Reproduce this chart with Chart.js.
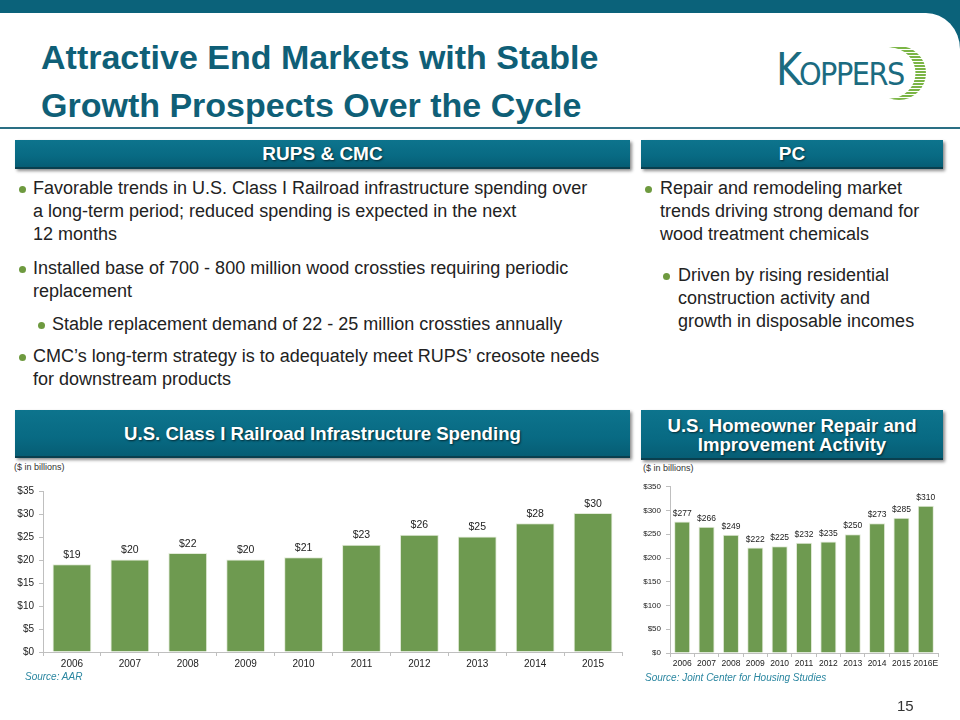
<!DOCTYPE html>
<html>
<head>
<meta charset="utf-8">
<script src="https://cdn.jsdelivr.net/npm/chart.js@4.4.1/dist/chart.umd.min.js"></script>
<style>
  html,body{margin:0;padding:0;}
  body{width:960px;height:720px;position:relative;overflow:hidden;background:#fff;font-family:"Liberation Sans",Arial,sans-serif;}
  .abs{position:absolute;}
  #topteal{left:0;top:0;width:960px;height:80px;background:#0b627a;}
  #whitepage{left:0;top:13px;width:960px;height:707px;background:#fff;border-top-right-radius:34px 36px;}
  .title{left:41px;color:#0f5f77;font-weight:bold;font-size:34px;white-space:nowrap;line-height:40px;}
  #rule{left:0;top:127px;width:960px;height:2px;background:#2a6f84;}
  .hdr{background:linear-gradient(#0d748d,#086a83 60%,#065d74);color:#fff;font-weight:bold;text-align:center;box-shadow:2px 2px 3px rgba(0,0,0,0.45);border-bottom:2px solid #0a3f4e;box-sizing:border-box;text-shadow:1px 1px 2px rgba(0,0,0,0.6);}
  .bl{font-size:18px;color:#222;line-height:23px;white-space:nowrap;}
  .dot{position:absolute;width:7px;height:7px;border-radius:50%;background:#6e9a3f;}
  .small{font-size:9px;color:#333;white-space:nowrap;}
  .src{font-size:10px;color:#2a86a0;font-style:italic;white-space:nowrap;}
</style>
</head>
<body>
<div id="topteal" class="abs"></div>
<div id="whitepage" class="abs"></div>

<div class="abs title" style="top:37px;">Attractive End Markets with Stable</div>
<div class="abs title" style="top:85px;">Growth Prospects Over the Cycle</div>

<!-- logo -->
<div class="abs" style="left:776px;top:44px;color:#1b6b80;white-space:nowrap;font-family:'DejaVu Sans Condensed','Liberation Sans',sans-serif;">
  <span style="font-size:44px;letter-spacing:-3px;">K</span><span style="font-size:32px;letter-spacing:-1.5px;">OPPERS</span>
</div>
<svg class="abs" style="left:866px;top:44px;" width="66" height="60" viewBox="0 0 66 60">
  <defs>
    <pattern id="stripes" width="4" height="3" patternUnits="userSpaceOnUse">
      <rect width="4" height="2" fill="#7bb545"/>
    </pattern>
    <mask id="cres">
      <rect width="66" height="60" fill="black"/>
      <circle cx="33" cy="29" r="27" fill="white"/>
      <circle cx="24" cy="29" r="25.5" fill="black"/>
    </mask>
  </defs>
  <rect width="66" height="60" fill="url(#stripes)" mask="url(#cres)"/>
</svg>

<div id="rule" class="abs"></div>

<div class="abs hdr" style="left:15px;top:140px;width:615px;height:29px;font-size:19px;line-height:28px;">RUPS &amp; CMC</div>
<div class="abs hdr" style="left:641px;top:140px;width:302px;height:29px;font-size:19px;line-height:28px;">PC</div>

<!-- left bullets -->
<div class="dot" style="left:19px;top:186px;"></div>
<div class="abs bl" style="left:33px;top:177px;">Favorable trends in U.S. Class I Railroad infrastructure spending over<br>a long-term period; reduced spending is expected in the next<br>12 months</div>
<div class="dot" style="left:19px;top:266px;"></div>
<div class="abs bl" style="left:33px;top:257px;">Installed base of 700 - 800 million wood crossties requiring periodic<br>replacement</div>
<div class="dot" style="left:38px;top:322px;"></div>
<div class="abs bl" style="left:52px;top:313px;">Stable replacement demand of 22 - 25 million crossties annually</div>
<div class="dot" style="left:19px;top:354px;"></div>
<div class="abs bl" style="left:33px;top:345px;">CMC’s long-term strategy is to adequately meet RUPS’ creosote needs<br>for downstream products</div>

<!-- right bullets -->
<div class="dot" style="left:645px;top:186px;"></div>
<div class="abs bl" style="left:660px;top:177px;">Repair and remodeling market<br>trends driving strong demand for<br>wood treatment chemicals</div>
<div class="dot" style="left:663px;top:273px;"></div>
<div class="abs bl" style="left:678px;top:264px;">Driven by rising residential<br>construction activity and<br>growth in disposable incomes</div>

<div class="abs hdr" style="left:15px;top:410px;width:615px;height:48px;font-size:18.6px;line-height:47px;">U.S. Class I Railroad Infrastructure Spending</div>
<div class="abs hdr" style="left:641px;top:410px;width:302px;height:50px;font-size:18.6px;line-height:19px;padding-top:6px;">U.S. Homeowner Repair and<br>Improvement Activity</div>

<div class="abs small" style="left:14px;top:462px;">($ in billions)</div>
<div class="abs small" style="left:643px;top:463px;">($ in billions)</div>

<canvas id="c1" class="abs" style="left:0px;top:480px;" width="630" height="195"></canvas>
<canvas id="c2" class="abs" style="left:630px;top:477px;" width="320" height="199"></canvas>

<div class="abs src" style="left:25px;top:671px;">Source: AAR</div>
<div class="abs src" style="left:645px;top:672px;">Source: Joint Center for Housing Studies</div>

<div class="abs" style="left:897px;top:697px;font-size:15px;color:#333;">15</div>

<script>
// ---- data ----
const railYears = ['2006','2007','2008','2009','2010','2011','2012','2013','2014','2015'];
const railSpend = [19.1, 20.1, 21.5, 20.1, 20.6, 23.3, 25.5, 25.1, 28.0, 30.2];
const railLabels = ['$19','$20','$22','$20','$21','$23','$26','$25','$28','$30'];
const railTicks = [0,5,10,15,20,25,30,35];

const homeYears = ['2006','2007','2008','2009','2010','2011','2012','2013','2014','2015','2016E'];
const homeSpend = [277, 266, 249, 222, 225, 232, 235, 250, 273, 285, 310];
const homeLabels = ['$277','$266','$249','$222','$225','$232','$235','$250','$273','$285','$310'];
const homeTicks = [0,50,100,150,200,250,300,350];

const FONT = '"Liberation Sans", Arial, sans-serif';
const GREEN = '#6e9a50';
const AXIS = '#bfbfbf';

function valueLabelPlugin(labels, size) {
  return {
    id: 'vl',
    afterDatasetsDraw(chart) {
      const ctx = chart.ctx;
      const meta = chart.getDatasetMeta(0);
      ctx.save();
      ctx.font = size + 'px ' + FONT;
      ctx.fillStyle = '#222';
      ctx.textAlign = 'center';
      ctx.textBaseline = 'bottom';
      meta.data.forEach((bar, i) => {
        ctx.fillText(labels[i], bar.x, bar.y - 4);
      });
      ctx.restore();
    }
  };
}

function makeChart(id, cats, vals, labels, ticks, opts) {
  return new Chart(document.getElementById(id), {
    type: 'bar',
    data: {
      labels: cats,
      datasets: [{
        data: vals,
        backgroundColor: GREEN,
        borderColor: '#e3ebd9',
        borderWidth: 1,
        barPercentage: opts.bar,
        categoryPercentage: 1.0
      }]
    },
    options: {
      responsive: false,
      devicePixelRatio: 1,
      animation: false,
      layout: { padding: { top: opts.padTop, right: opts.padRight, left: 0, bottom: 0 } },
      plugins: { legend: { display: false }, tooltip: { enabled: false } },
      scales: {
        x: {
          grid: { display: true, drawOnChartArea: false, drawTicks: true, tickLength: 4, color: AXIS, offset: true },
          border: { display: true, color: AXIS },
          ticks: { padding: 2, color: '#222', font: { family: FONT, size: opts.xFont }, maxRotation: 0, autoSkip: false },
          afterFit(s) { s.height = 23; }
        },
        y: {
          min: ticks[0], max: ticks[ticks.length - 1],
          afterBuildTicks(s) { s.ticks = ticks.map(v => ({ value: v })); },
          grid: { display: true, drawOnChartArea: false, drawTicks: true, tickLength: 4, color: AXIS },
          border: { display: true, color: AXIS },
          ticks: { padding: 5, color: '#222', font: { family: FONT, size: opts.yFont }, callback: v => '$' + v },
          afterFit(s) { s.width = opts.yWidth; }
        }
      }
    },
    plugins: [valueLabelPlugin(labels, opts.lblFont)]
  });
}

makeChart('c1', railYears, railSpend, railLabels, railTicks,
  { bar: 0.67, padTop: 11, padRight: 8, xFont: 10, yFont: 10, lblFont: 10.5, yWidth: 43 });
makeChart('c2', homeYears, homeSpend, homeLabels, homeTicks,
  { bar: 0.66, padTop: 8, padRight: 12, xFont: 8.5, yFont: 8, lblFont: 8.5, yWidth: 40 });
</script>
</body>
</html>
